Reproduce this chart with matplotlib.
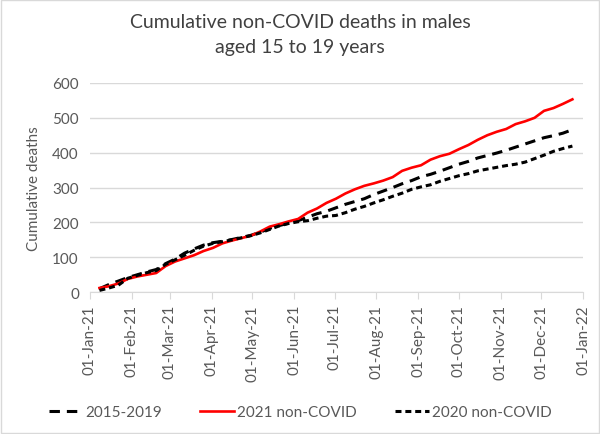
import numpy as np
import pandas as pd
import matplotlib
matplotlib.use("Agg")
import matplotlib.pyplot as plt
import matplotlib.dates as mdates
from matplotlib.patches import Rectangle

plt.rcParams["font.family"] = ["Lato", "DejaVu Sans"]
plt.rcParams["lines.scale_dashes"] = False

# semaines (vendredi) de 2021
weeks = pd.date_range("2021-01-08", periods=51, freq="7D")

avg_2015_2019 = [10, 22, 32, 42, 50, 58, 65, 82, 95, 112, 124, 135, 142, 146, 151, 157, 163,
                 172, 183, 191, 198, 205, 215, 225, 232, 242, 252, 260, 268, 280, 290, 300,
                 311, 320, 331, 338, 347, 357, 367, 375, 385, 392, 399, 407, 416, 425, 434,
                 443, 449, 456, 466]
noncovid_2021 = [12, 17, 25, 38, 45, 50, 55, 75, 88, 97, 106, 118, 127, 140, 148, 155, 162,
                 174, 188, 195, 203, 210, 228, 240, 256, 268, 283, 295, 305, 312, 320, 330,
                 348, 357, 364, 380, 390, 397, 410, 422, 437, 450, 460, 468, 482, 490, 500,
                 520, 528, 540, 553]
noncovid_2020 = [5, 12, 20, 40, 48, 56, 62, 80, 93, 106, 120, 132, 140, 145, 150, 156, 162,
                 170, 180, 190, 197, 202, 205, 212, 218, 220, 228, 238, 246, 256, 265, 275,
                 284, 295, 302, 308, 318, 326, 334, 340, 348, 353, 358, 363, 367, 373, 383,
                 393, 404, 412, 419]

fig = plt.figure(figsize=(6, 4.35), dpi=100)
ax = fig.add_axes([0.15, 0.326, 0.822, 0.481])

ax.plot(weeks, avg_2015_2019, color="black", lw=2.2, dashes=(7.5, 5), label="2015-2019")
ax.plot(weeks, noncovid_2021, color="#ff0000", lw=1.9, label="2021 non-COVID")
ax.plot(weeks, noncovid_2020, color="black", lw=2.2, dashes=(4.3, 2.8), label="2020 non-COVID")

ax.set_xlim(pd.Timestamp("2021-01-01"), pd.Timestamp("2022-01-01"))
ax.set_ylim(0, 600)
ax.set_yticks(range(0, 601, 100))
ax.xaxis.set_major_locator(mdates.MonthLocator())
ax.xaxis.set_major_formatter(mdates.DateFormatter("%d-%b-%y"))
plt.setp(ax.get_xticklabels(), rotation=90)

ax.grid(True, axis="y", color="#d9d9d9", lw=1)
ax.set_axisbelow(True)
for s in ["top", "right", "left"]:
    ax.spines[s].set_visible(False)
ax.spines["bottom"].set_color("#d9d9d9")
ax.tick_params(axis="x", colors="#d9d9d9", labelcolor="#595959", labelsize=11, length=5, direction="out")
ax.tick_params(axis="y", length=0, labelcolor="#595959", labelsize=11, pad=8)

ax.set_ylabel("Cumulative deaths", fontsize=11, color="#595959", labelpad=8)
fig.text(0.5, 1 - 14 / 435, "Cumulative non-COVID deaths in males\naged 15 to 19 years",
         ha="center", va="top", fontsize=14, color="#404040", linespacing=1.6)

fig.legend(loc="center", bbox_to_anchor=(0.5, 0.05), ncol=3, frameon=False, fontsize=11,
           handlelength=2.2, columnspacing=2.5, handletextpad=0.2, labelcolor="#595959")

fig.patches.append(Rectangle((0.002, 0.002), 0.996, 0.996, transform=fig.transFigure,
                             fill=False, edgecolor="#d9d9d9", lw=1))

fig.savefig("out.png", dpi=100)
